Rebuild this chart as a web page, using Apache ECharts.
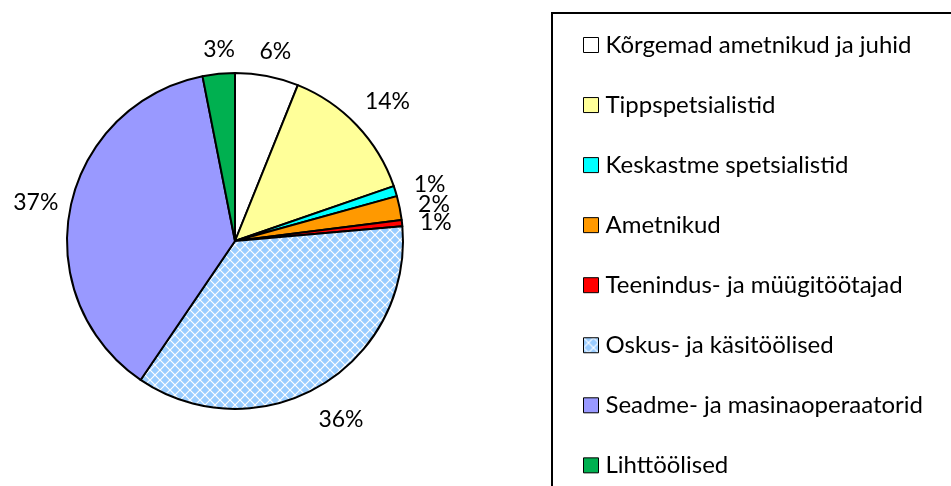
<!DOCTYPE html>
<html><head><meta charset="utf-8">
<script src="https://cdn.jsdelivr.net/npm/echarts@6/dist/echarts.min.js"></script>
<style>html,body{margin:0;padding:0;background:#fff}#c{width:951px;height:486px}</style>
</head><body><div id="c"></div>
<script>
const categories = ['Kõrgemad ametnikud ja juhid','Tippspetsialistid','Keskastme spetsialistid','Ametnikud','Teenindus- ja müügitöötajad','Oskus- ja käsitöölised','Seadme- ja masinaoperaatorid','Lihttöölised'];
const values = [6.1, 13.6, 1.0, 2.3, 0.6, 35.9, 37.4, 3.1];
const colors = ['#FFFFFF','#FFFF99','#00FFFF','#FF9900','#FF0000','#99CCFF','#9999FF','#00B050'];

// hatch pattern for the blue slice
const tile = document.createElement('canvas');
tile.width = 10; tile.height = 10;
const g = tile.getContext('2d');
g.fillStyle = '#99CCFF'; g.fillRect(0,0,10,10);
g.strokeStyle = '#FFFFFF'; g.lineWidth = 1.2;
g.beginPath(); g.moveTo(0,0); g.lineTo(10,10); g.moveTo(10,0); g.lineTo(0,10); g.stroke();

const font = 'Lato, "Open Sans", sans-serif';
const CX = 235, CY = 241, R = 168, GAP = 14;
const total = values.reduce((a,b)=>a+b,0);
const midFrac = values.map((v,i)=>(values.slice(0,i).reduce((a,b)=>a+b,0) + v/2)/total);

const data = categories.map((n,i)=>({
  name:n, value:values[i],
  itemStyle:{color: i===5 ? {image: tile, repeat:'repeat'} : colors[i]}
}));

const chart = echarts.init(document.getElementById('c'));
chart.setOption({
  animation:false,
  legend:{
    orient:'vertical', left:578, top:28, itemGap:36.05,
    icon:'rect', itemWidth:15, itemHeight:15,
    itemStyle:{borderColor:'#000', borderWidth:1},
    textStyle:{fontFamily:font, fontSize:24, color:'#000', padding:[0,0,0,2]},
    data:categories
  },
  graphic:[{type:'rect', shape:{x:552, y:13, width:420, height:500}, style:{fill:null, stroke:'#000', lineWidth:2}}],
  series:[{
    type:'pie', center:[CX,CY], radius:R, startAngle:90, clockwise:true,
    itemStyle:{borderColor:'#000', borderWidth:2},
    label:{show:true, position:'outside', fontFamily:font, fontSize:23, color:'#000', overflow:'none',
      formatter:p=>Math.round(p.percent)+'%'},
    labelLine:{show:false, length:10, length2:0},
    labelLayout:function(p){
      const a = midFrac[p.dataIndex]*2*Math.PI;
      const ux = Math.sin(a), uy = -Math.cos(a);
      const w = p.labelRect.width, h = p.labelRect.height;
      const d = R + GAP + Math.abs(ux)*w/2 + Math.abs(uy)*h/2;
      return {x: CX + ux*d + 3, y: CY + uy*d + 3, align:'center', verticalAlign:'middle'};
    },
    emphasis:{disabled:true},
    data:data
  }]
});
</script></body></html>
